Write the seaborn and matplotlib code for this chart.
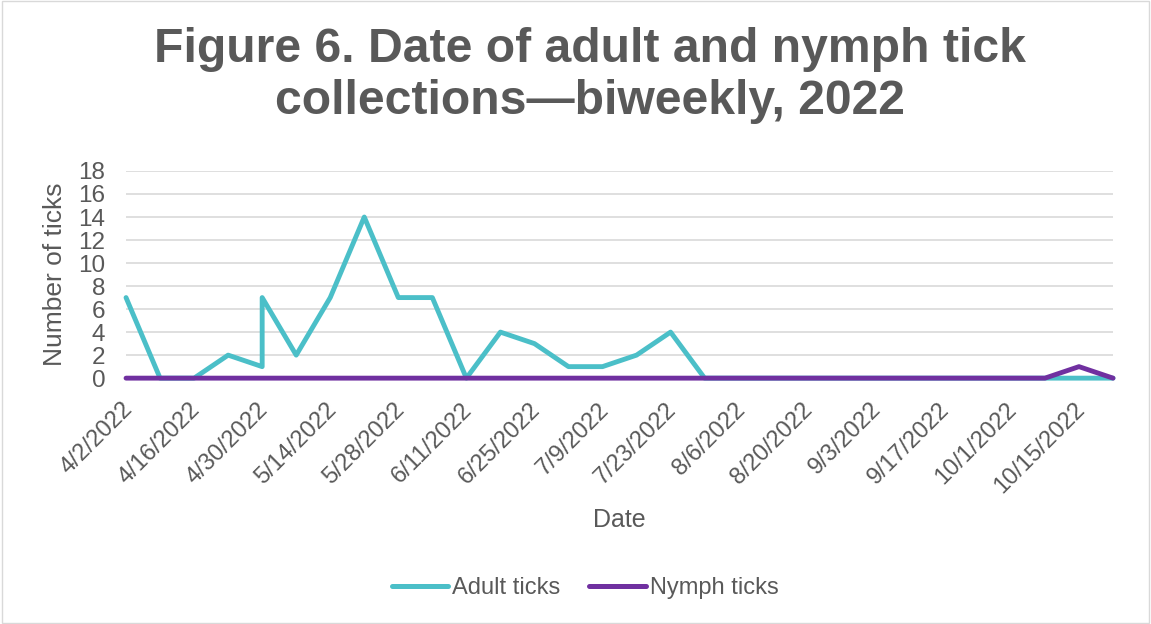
import matplotlib
matplotlib.use("Agg")
import matplotlib.pyplot as plt
import matplotlib.transforms as mtransforms
import seaborn as sns
import pandas as pd
import numpy as np
from matplotlib.lines import Line2D

dates = ["2022-04-02", "2022-04-09", "2022-04-16", "2022-04-23", "2022-04-30", "2022-04-30",
         "2022-05-07", "2022-05-14", "2022-05-21", "2022-05-28", "2022-06-04", "2022-06-11",
         "2022-06-18", "2022-06-25", "2022-07-02", "2022-07-09", "2022-07-16", "2022-07-23",
         "2022-07-30", "2022-08-06", "2022-08-13", "2022-08-20", "2022-08-27", "2022-09-03",
         "2022-09-10", "2022-09-17", "2022-09-24", "2022-10-01", "2022-10-08", "2022-10-15",
         "2022-10-22"]
adult = [7, 0, 0, 2, 1, 7, 2, 7, 14, 7, 7, 0, 4, 3, 1, 1, 2, 4, 0, 0, 0, 0, 0, 0, 0, 0, 0, 0, 0, 0, 0]
nymph = [0, 0, 0, 0, 0, 0, 0, 0, 0, 0, 0, 0, 0, 0, 0, 0, 0, 0, 0, 0, 0, 0, 0, 0, 0, 0, 0, 0, 0, 1, 0]
series_names = ["Adult ticks", "Nymph ticks"]
colors = ["#4BBFC8", "#7030A0"]

df = pd.DataFrame({
    "Date": pd.to_datetime(dates * 2),
    "Number of ticks": adult + nymph,
    "Series": [series_names[0]] * len(dates) + [series_names[1]] * len(dates),
})

sns.set_style("white")
plt.rcParams['font.family'] = ['Arial', 'Liberation Sans', 'DejaVu Sans']
gray = "#595959"

fig = plt.figure(figsize=(11.51, 6.24), dpi=100)
ax = fig.add_axes([0.1095, 0.394, 0.8575, 0.332])

sns.lineplot(data=df, x="Date", y="Number of ticks", hue="Series", palette=colors,
             estimator=None, sort=False, linewidth=3.5, ax=ax, legend=False)
for ln in ax.get_lines():
    ln.set_clip_on(False)
    ln.set_zorder(4)

start = pd.Timestamp("2022-04-02")
end = pd.Timestamp("2022-10-22")
ax.set_xlim(start, end)
ax.set_ylim(0, 18)
ax.set_yticks(np.arange(0, 19, 2))
ticks = pd.date_range(start, "2022-10-15", freq="14D")
ax.set_xticks(ticks)
ax.set_xticklabels([f"{d.month}/{d.day}/{d.year}" for d in ticks], rotation=45,
                   ha="right", rotation_mode="anchor", fontsize=17, color=gray)
ax.tick_params(axis="x", length=5, color="#D9D9D9", width=1, pad=6)
ax.tick_params(axis="y", length=0, labelsize=17.5, labelcolor=gray, pad=15)
offset = mtransforms.ScaledTranslation(-5 / 100, -5 / 100, fig.dpi_scale_trans)
for lbl in ax.get_xticklabels():
    lbl.set_transform(lbl.get_transform() + offset)

ax.grid(axis="y", color="#D9D9D9", linewidth=1.2)
ax.set_axisbelow(True)
for s in ["top", "right", "left"]:
    ax.spines[s].set_visible(False)
ax.spines["bottom"].set_color("#D9D9D9")
ax.spines["bottom"].set_zorder(1)

ax.set_xlabel("Date", fontsize=18, color=gray)
ax.xaxis.set_label_coords(0.5, -0.628)
ax.set_ylabel("Number of ticks", fontsize=19, color=gray)
ax.yaxis.set_label_coords(-0.0598, 0.5)

fig.text(0.5126, 1 - 62 / 624, "Figure 6. Date of adult and nymph tick", ha="center",
         va="baseline", fontsize=34.7, fontweight="bold", color=gray)
fig.text(0.5126, 1 - 114 / 624, "collections\u2014biweekly, 2022", ha="center",
         va="baseline", fontsize=34.7, fontweight="bold", color=gray)

handles = [Line2D([0], [0], color=c, linewidth=3.6, solid_capstyle="round") for c in colors]
fig.legend(handles, series_names, loc="center", bbox_to_anchor=(585 / 1151, 1 - 588 / 624),
           ncol=2, frameon=False, fontsize=17, labelcolor=gray, handlelength=2.4,
           handletextpad=0.17, columnspacing=1.2)

border = plt.Rectangle((0.002, 0.002), 0.996, 0.996, transform=fig.transFigure,
                       fill=False, edgecolor="#D9D9D9", linewidth=1)
fig.patches.append(border)

fig.savefig("out.png", dpi=100)
